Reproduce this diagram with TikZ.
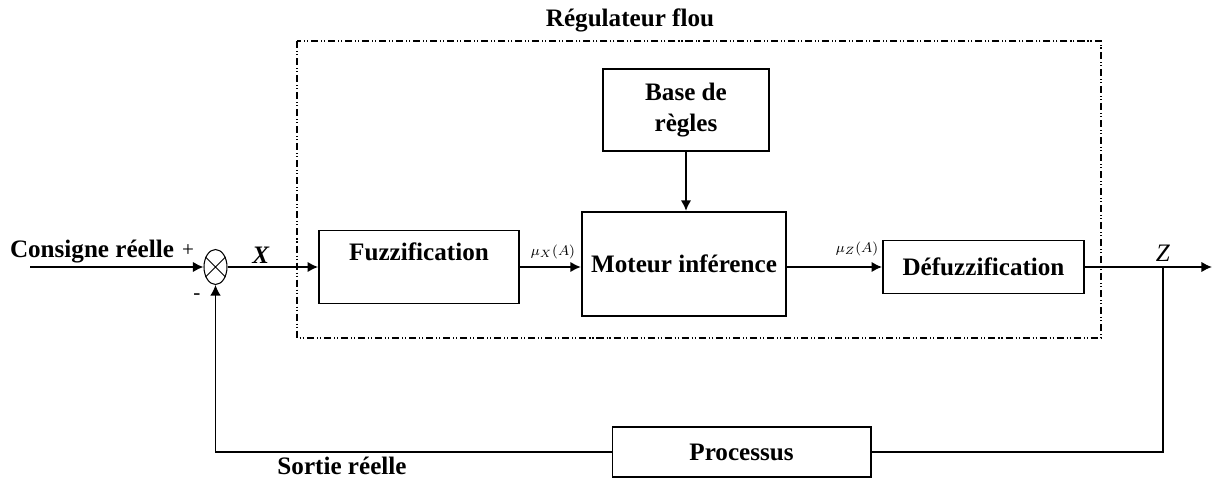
\documentclass[tikz,border=0pt]{standalone}
\usepackage{fontspec}
\setmainfont{Liberation Serif}
\usetikzlibrary{shapes.geometric,arrows.meta}

\begin{document}
\begin{tikzpicture}[x=0.02cm,y=-0.02cm]
				\tikzstyle{Block}	= [draw, rectangle, inner sep=0pt, align=center, font=\fontsize{14.3}{17.6}\selectfont\bfseries]
				\tikzstyle{Bold}	= [inner sep=0pt, font=\fontsize{14.3}{17.6}\selectfont\bfseries]
				\tikzstyle{Small}	= [inner sep=0pt, font=\fontsize{8}{9}\selectfont]
				\tikzstyle{Flow}	= [line width=1.1pt, -{Latex[length=6pt,width=6pt]}]
				\tikzstyle{Back}	= [line width=0.7pt]
				\tikzstyle{Frame}	= [line width=0.6pt, dash pattern=on 4pt off 1.7pt on 0.6pt off 1.1pt on 0.6pt off 1.7pt]

				\useasboundingbox (0,0) rectangle (1213,479);

				% fuzzy controller frame
				\draw (297,41) rectangle (1101,338) [Frame];
				\node (reg) at (630,20) [Bold] {Régulateur flou};

				\node (sum) at (215.5,267) [draw, ellipse, line width=0.6pt, minimum width=0.46cm, minimum height=0.7cm, inner sep=0pt] {};
				\draw [line width=0.5pt] (sum.45) -- (sum.225) (sum.135) -- (sum.315);

				\node (fuzz) at (419,267) [Block, line width=1pt, minimum width=4cm, minimum height=1.46cm] {};
				\node (fuzzt) at (419,252) [Bold] {Fuzzification};
				\node (base) at (686,110) [Block, line width=0.7pt, minimum width=3.32cm, minimum height=1.64cm] {Base de\\règles};
				\node (mot) at (684,264) [Block, line width=1.3pt, minimum width=4.08cm, minimum height=2.08cm] {Moteur inférence};
				\node (defuz) at (983.5,267) [Block, line width=1.1pt, minimum width=4.02cm, minimum height=1.06cm] {Défuzzification};
				\node (proc) at (741.5,452) [Block, line width=0.6pt, minimum width=5.18cm, minimum height=1cm] {Processus};

				\coordinate (in) at (30,267);
				\coordinate (br) at (1163,267);
				\coordinate (out) at (1212,267);

				% texts
				\node (cons) at (92,252) [Bold] {Consigne réelle};
				\node (plus) at (188,251) [inner sep=0pt, font=\fontsize{12}{14}\selectfont] {+};
				\node (minus) at (197,297) [inner sep=0pt, font=\fontsize{12}{14}\selectfont] {-};
				\node (lx) at (261,255) [Bold] {\textit{X}};
				\node (lz) at (1163,253) [inner sep=0pt, font=\fontsize{14.3}{17}\selectfont] {\textit{Z}};
				\node (mux) at (553,252) [Small] {$\mu_X(A)$};
				\node (muz) at (857,249) [Small] {$\mu_Z(A)$};
				\node (sort) at (342,466) [Bold] {Sortie réelle};

				% connections
				\draw (in) -- (sum.west) [Flow];
				\draw (sum.east) -- (fuzz.west) [Flow];
				\draw (fuzz.east) -- (fuzz.east -| mot.west) [Flow];
				\draw (base.south) -- (base.south |- mot.north) [Flow];
				\draw (defuz.west -| mot.east) -- (defuz.west) [Flow];
				\draw (defuz.east) -- (out) [Flow];
				\draw (br) |- (proc.east) [Back];
				\draw (proc.west) -| (sum.south) [Back, -{Latex[length=6pt,width=6pt]}];
\end{tikzpicture}
\end{document}
